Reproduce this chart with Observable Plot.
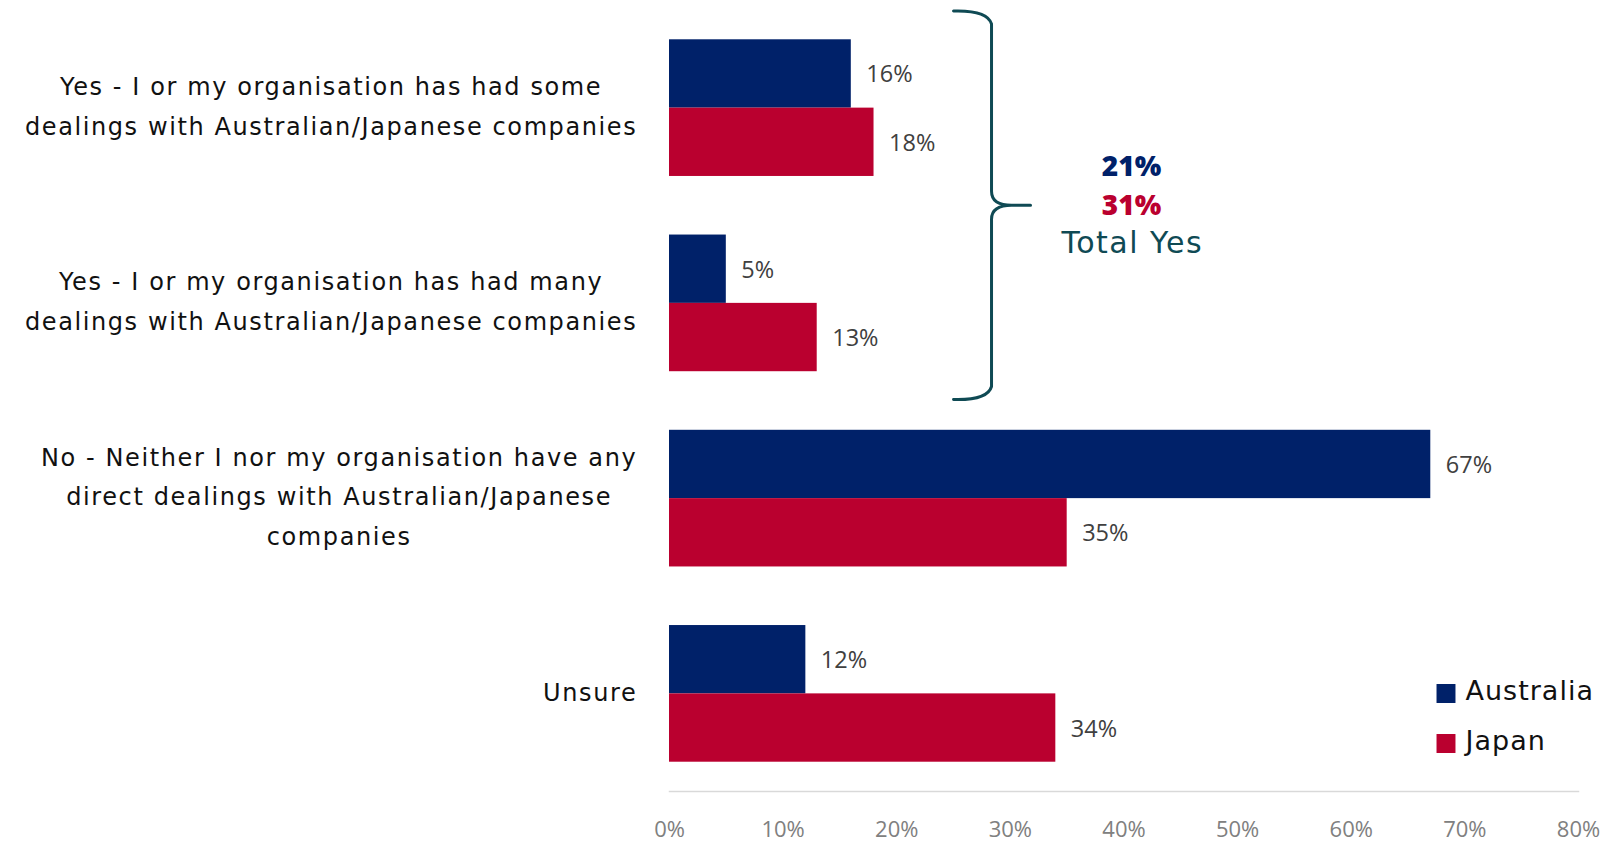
<!DOCTYPE html>
<html>
<head>
<meta charset="utf-8">
<script src="https://cdn.jsdelivr.net/npm/d3@7"></script>
<script src="https://cdn.jsdelivr.net/npm/@observablehq/plot@0.6"></script>
<style>
  html, body { margin: 0; padding: 0; background: #fff; }
  #chart svg { display: block; }
</style>
</head>
<body>
<div id="chart"></div>
<script>
(function () {
// ---- Data ----
const categories = [
  "Yes - I or my organisation has had some\ndealings with Australian/Japanese companies",
  "Yes - I or my organisation has had many\ndealings with Australian/Japanese companies",
  "No - Neither I nor my organisation have any\ndirect dealings with Australian/Japanese\ncompanies",
  "Unsure"
];
const series = ["Australia", "Japan"];
const australia = [16, 5, 67, 12];
const japan = [18, 13, 35, 34];
const totalYes = [21, 31];          // Australia, Japan
const totalYesLabel = "Total Yes";
const xTicks = [0, 10, 20, 30, 40, 50, 60, 70, 80];

// ---- Styles / layout ----
const colors = ["#002169", "#BA002F"];
const braceColor = "#0f4a54";
const FONT = "'Open Sans', sans-serif";
const WIDE = "'DejaVu Sans', sans-serif";
const W = 1604, H = 842;
const mt = 10, mb = 51, ml = 669, mr = 26;
const padInner = 0.3, padOuter = 0.15;
const step = (H - mt - mb) / (categories.length - padInner + 2 * padOuter);
const bw = step * (1 - padInner);

const rows = categories.flatMap((c, i) => [
  {category: c, series: series[0], value: australia[i]},
  {category: c, series: series[1], value: japan[i]}
]);
const aus = rows.filter(d => d.series === series[0]);
const jpn = rows.filter(d => d.series === series[1]);

// measure label widths so each block is centred and right-aligned
const ctx = document.createElement("canvas").getContext("2d");
const catFontSize = 24, catSpacing = 1.6;
ctx.font = `${catFontSize}px 'DejaVu Sans'`;
const blockWidth = c => d3.max(c.split("\n"), l => ctx.measureText(l).width + catSpacing * l.length);
const gap = 33;

const catMarks = categories.map(c => Plot.text([c], {
  y: d => d, text: d => d, frameAnchor: "left", textAnchor: "middle",
  dx: -(gap + blockWidth(c) / 2) + catSpacing / 2, dy: -6, fontSize: catFontSize, lineHeight: 1.65,
  fill: "#111", fontFamily: WIDE, ariaDescription: "category-label"
}));

const legendMarks = series.flatMap((s, i) => [
  Plot.dot([s], {frameAnchor: "bottom-right", dx: -132.5, dy: -98 + i * 50,
    symbol: "square", r: 10.7, fill: d => d, stroke: null}),
  Plot.text([s], {frameAnchor: "bottom-right", text: d => d, textAnchor: "start",
    lineAnchor: "middle", dx: -113, dy: -100 + i * 50, fontSize: 27, fill: "#111",
    fontFamily: WIDE, ariaDescription: "legend-label"})
]);

const chart = Plot.plot({
  width: W, height: H,
  marginTop: mt, marginBottom: mb, marginLeft: ml, marginRight: mr,
  style: {fontFamily: FONT, background: "#fff"},
  x: {domain: [0, 80], axis: null},
  y: {domain: categories, paddingInner: padInner, paddingOuter: padOuter, round: false, axis: null},
  color: {domain: series, range: colors},
  marks: [
    Plot.frame({anchor: "bottom", stroke: "#d9d9d9", strokeWidth: 1.5}),
    Plot.axisX({ticks: xTicks, tickFormat: d => d + "%", tickSize: 0, tickPadding: 30,
      fontSize: 22, fill: "#808080", fontFamily: FONT, label: null}),
    Plot.barX(aus, {x1: 0, x2: "value", y: "category", fill: "series", insetBottom: bw / 2}),
    Plot.barX(jpn, {x1: 0, x2: "value", y: "category", fill: "series", insetTop: bw / 2}),
    Plot.text(aus, {x: "value", y: "category", text: d => d.value + "%", dy: -bw / 4 + 1, dx: 15,
      textAnchor: "start", fontSize: 23.5, fill: "#404040", fontFamily: FONT}),
    Plot.text(jpn, {x: "value", y: "category", text: d => d.value + "%", dy: bw / 4 + 1, dx: 15,
      textAnchor: "start", fontSize: 23.5, fill: "#404040", fontFamily: FONT}),
    ...catMarks,
    ...legendMarks
  ]
});

const svg = d3.select(chart);
svg.selectAll('g[aria-description="category-label"], g[font-size="24"]')
  .attr("letter-spacing", catSpacing).style("letter-spacing", catSpacing + "px");
svg.selectAll('g[aria-description="legend-label"], g[font-size="27"]')
  .attr("letter-spacing", 1).style("letter-spacing", "1px");

// ---- Brace annotation using the chart's own scales ----
const sx = chart.scale("x"), sy = chart.scale("y");
const gapY = sy.step - sy.bandwidth;
const yTop = sy.apply(categories[0]) - gapY / 2;
const yMid = sy.apply(categories[1]) - gapY / 2;
const yBot = sy.apply(categories[1]) + sy.bandwidth + gapY / 2;
const xv = sx.apply(d3.max([australia[0], japan[0], australia[1], japan[1]]));
const tip = xv + 80, vert = xv + 118, pt = xv + 157, r = 14;
const path = [
  `M${tip},${yTop + 1}`, `Q${vert - 4},${yTop} ${vert},${yTop + r}`,
  `L${vert},${yMid - r}`, `Q${vert},${yMid} ${vert + r + 6},${yMid}`, `L${pt},${yMid}`,
  `M${vert + r + 6},${yMid}`, `Q${vert},${yMid} ${vert},${yMid + r}`,
  `L${vert},${yBot - r}`, `Q${vert - 4},${yBot} ${tip},${yBot - 1}`
].join(" ");
svg.append("path").attr("d", path).attr("fill", "none")
  .attr("stroke", braceColor).attr("stroke-width", 3).attr("stroke-linecap", "round");
const tx = xv + 258;
const ann = svg.append("g").attr("text-anchor", "middle");
ann.append("text").attr("x", tx).attr("y", yMid - 39).attr("dy", "0.35em").attr("font-family", FONT)
  .attr("font-size", 28).attr("font-weight", 800).attr("fill", colors[0]).text(totalYes[0] + "%");
ann.append("text").attr("x", tx).attr("y", yMid).attr("dy", "0.35em").attr("font-family", FONT)
  .attr("font-size", 28).attr("font-weight", 800).attr("fill", colors[1]).text(totalYes[1] + "%");
ann.append("text").attr("x", tx + 0.75).attr("y", yMid + 37).attr("dy", "0.35em").attr("font-family", WIDE)
  .attr("font-size", 30).attr("letter-spacing", "1.5px").attr("fill", braceColor).text(totalYesLabel);

document.getElementById("chart").appendChild(chart);
})();
</script>
</body>
</html>
